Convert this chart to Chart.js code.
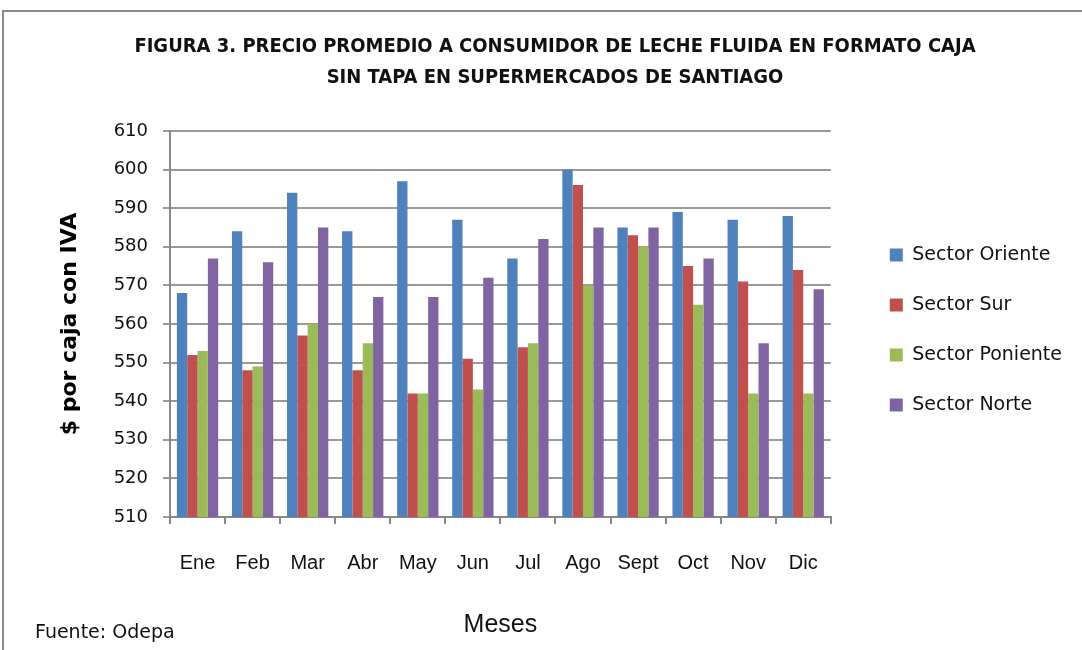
<!DOCTYPE html>
<html>
<head>
<meta charset="utf-8">
<script src="https://cdn.jsdelivr.net/npm/chart.js@4.4.1/dist/chart.umd.min.js"></script>
<style>
  html, body { margin: 0; padding: 0; background: #fff; }
  canvas { display: block; }
</style>
</head>
<body>
<canvas id="c" width="1082" height="650"></canvas>
<script>
const months = ['Ene', 'Feb', 'Mar', 'Abr', 'May', 'Jun', 'Jul', 'Ago', 'Sept', 'Oct', 'Nov', 'Dic'];
const sectorOriente  = [568, 584, 594, 584, 597, 587, 577, 600, 585, 589, 587, 588];
const sectorSur      = [552, 548, 557, 548, 542, 551, 554, 596, 583, 575, 571, 574];
const sectorPoniente = [553, 549, 560, 555, 542, 543, 555, 570, 580, 565, 542, 542];
const sectorNorte    = [577, 576, 585, 567, 567, 572, 582, 585, 585, 577, 555, 569];
const seriesNames = ['Sector Oriente', 'Sector Sur', 'Sector Poniente', 'Sector Norte'];
const titleLines = ['FIGURA 3. PRECIO PROMEDIO A CONSUMIDOR DE LECHE FLUIDA EN FORMATO CAJA', 'SIN TAPA EN SUPERMERCADOS DE SANTIAGO'];
const yTitle = '$ por caja con IVA';
const xTitle = 'Meses';
const sourceNote = 'Fuente: Odepa';

const colors = ['#4F81BD', '#C0504D', '#9BBB59', '#8064A2'];
const seriesValues = [sectorOriente, sectorSur, sectorPoniente, sectorNorte];

Chart.defaults.color = '#000';

const frame = {
  id: 'frame',
  beforeDraw(chart) {
    const ctx = chart.ctx;
    ctx.save();
    ctx.fillStyle = '#fff';
    ctx.fillRect(0, 0, chart.width, chart.height);
    ctx.restore();
  },
  afterDraw(chart) {
    const ctx = chart.ctx;
    ctx.save();
    ctx.strokeStyle = '#8a8a8a';
    ctx.lineWidth = 2;
    ctx.beginPath();
    ctx.moveTo(3, 650);
    ctx.lineTo(3, 11);
    ctx.lineTo(1082, 11);
    ctx.stroke();
    ctx.fillStyle = '#111';
    ctx.font = '19px "DejaVu Sans", sans-serif';
    ctx.textBaseline = 'middle';
    ctx.textAlign = 'left';
    ctx.fillText(sourceNote, 35, 633);
    ctx.restore();
  }
};

new Chart(document.getElementById('c'), {
  type: 'bar',
  data: {
    labels: months,
    datasets: seriesNames.map((name, i) => ({
      label: name,
      data: seriesValues[i],
      backgroundColor: colors[i],
      borderWidth: 0,
      categoryPercentage: 0.75,
      barPercentage: 1.0
    }))
  },
  options: {
    responsive: false,
    animation: false,
    layout: { padding: { left: 38, right: 10, top: 0, bottom: 0 } },
    plugins: {
      title: {
        display: true,
        text: titleLines,
        color: '#111',
        font: { family: '"Liberation Sans Narrow", "DejaVu Sans Condensed", sans-serif', size: 20, weight: 'bold', lineHeight: '31px' },
        padding: { top: 31.5, bottom: 37.5 }
      },
      legend: {
        display: true,
        position: 'right',
        fullSize: false,
        title: { display: true, text: '', font: { size: 10, lineHeight: '12px' }, padding: 0 },
        labels: {
          boxWidth: 13,
          boxHeight: 13,
          padding: 31,
          color: '#111',
          font: { family: '"DejaVu Sans", sans-serif', size: 19 }
        }
      },
      tooltip: { enabled: false }
    },
    scales: {
      x: {
        grid: { display: true, drawOnChartArea: false, drawTicks: true, tickLength: 7, color: '#888', lineWidth: 2, offset: true },
        border: { display: true, color: '#888', width: 2 },
        ticks: { padding: 27, color: '#111', font: { family: '"Liberation Sans", sans-serif', size: 20 } },
        title: { display: true, text: xTitle, color: '#111', font: { family: '"Liberation Sans", sans-serif', size: 25 }, padding: { top: 0, bottom: 10 } },
        afterFit(scale) { scale.height = 133; }
      },
      y: {
        min: 510,
        max: 610,
        ticks: { stepSize: 10, padding: 15, color: '#111', font: { family: '"DejaVu Sans", sans-serif', size: 18 } },
        grid: { color: '#999', lineWidth: 2, tickLength: 7, drawTicks: true },
        border: { display: true, color: '#888', width: 2 },
        title: { display: true, text: yTitle, color: '#000', font: { family: '"DejaVu Sans", sans-serif', size: 22, weight: 'bold' }, padding: { top: 19, bottom: 0 } },
        afterFit(scale) { scale.width = 132; }
      },
      gap: {
        type: 'linear',
        position: 'right',
        display: false,
        afterFit(scale) { scale.width = 28; }
      }
    }
  },
  plugins: [frame]
});
</script>
</body>
</html>
